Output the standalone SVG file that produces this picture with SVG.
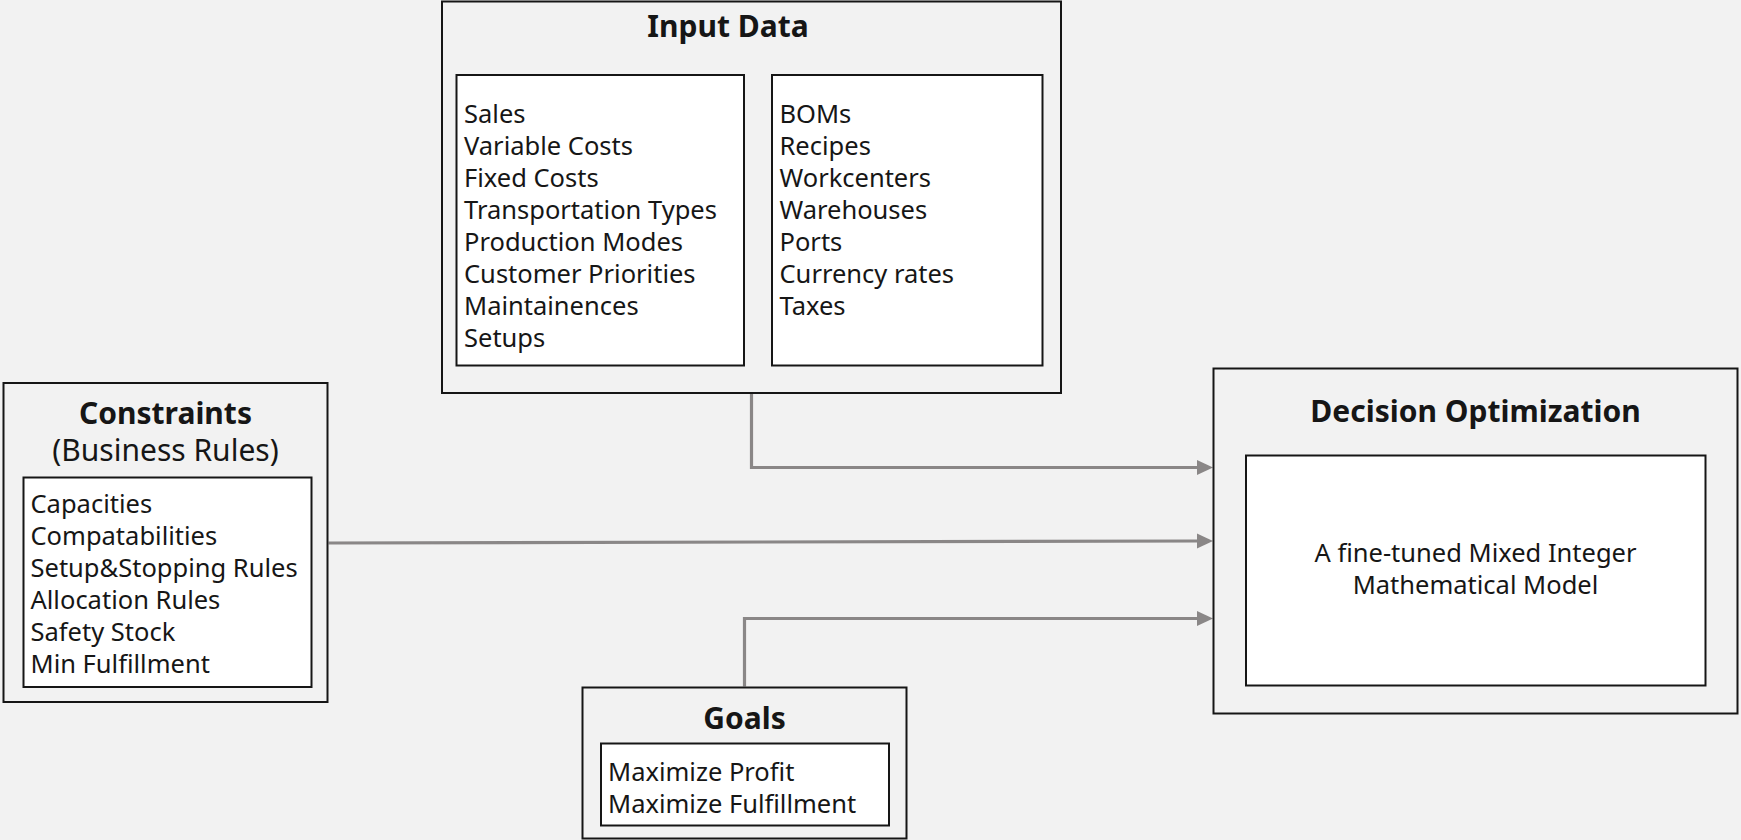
<svg xmlns="http://www.w3.org/2000/svg" width="1741" height="840" viewBox="0 0 1741 840">
<defs>
<style>
.outer{fill:#f2f2f2;stroke:#161616;stroke-width:2}
.inner{fill:#ffffff;stroke:#161616;stroke-width:2}
.t{font-family:"Noto Sans","Liberation Sans",sans-serif;font-size:25.5px;fill:#161616}
.h{font-family:"Noto Sans","Liberation Sans",sans-serif;font-size:30px;font-weight:bold;fill:#161616;text-anchor:middle}
.c{fill:none;stroke:#8a8787;stroke-width:3.2}
</style>
<marker id="arr" markerUnits="userSpaceOnUse" markerWidth="16" markerHeight="16" refX="0" refY="8" orient="auto">
<path d="M0,0.5 L16,8 L0,15.5 z" fill="#8a8787"/>
</marker>
</defs>
<rect x="0" y="0" width="1741" height="840" fill="#f2f2f2"/>

<g id="connectors">
<path class="c" d="M751.5 394 V467.5 H1197" marker-end="url(#arr)"/>
<path class="c" d="M328.5 543 L1197 541" marker-end="url(#arr)"/>
<path class="c" d="M744.5 686.5 V618.5 H1197" marker-end="url(#arr)"/>
</g>

<g id="input-data">
<rect class="outer" x="442" y="1.5" width="619" height="391.5"/>
<text class="h" x="728" y="37">Input Data</text>
<rect class="inner" x="456.5" y="75" width="287.5" height="290.5"/>
<text class="t" x="464" y="122.5">Sales</text>
<text class="t" x="464" y="154.5">Variable Costs</text>
<text class="t" x="464" y="186.5">Fixed Costs</text>
<text class="t" x="464" y="218.5">Transportation Types</text>
<text class="t" x="464" y="250.5">Production Modes</text>
<text class="t" x="464" y="282.5">Customer Priorities</text>
<text class="t" x="464" y="314.5">Maintainences</text>
<text class="t" x="464" y="346.5">Setups</text>
<rect class="inner" x="772" y="75" width="270.5" height="290.5"/>
<text class="t" x="779.5" y="122.5">BOMs</text>
<text class="t" x="779.5" y="154.5">Recipes</text>
<text class="t" x="779.5" y="186.5">Workcenters</text>
<text class="t" x="779.5" y="218.5">Warehouses</text>
<text class="t" x="779.5" y="250.5">Ports</text>
<text class="t" x="779.5" y="282.5">Currency rates</text>
<text class="t" x="779.5" y="314.5">Taxes</text>
</g>

<g id="constraints">
<rect class="outer" x="3.5" y="383" width="324" height="319"/>
<text class="h" x="165.5" y="424">Constraints</text>
<text class="t" x="165.5" y="461" style="font-size:30px" text-anchor="middle">(Business Rules)</text>
<rect class="inner" x="23.5" y="477.5" width="288" height="209.5"/>
<text class="t" x="30.5" y="513">Capacities</text>
<text class="t" x="30.5" y="545">Compatabilities</text>
<text class="t" x="30.5" y="577">Setup&amp;Stopping Rules</text>
<text class="t" x="30.5" y="609">Allocation Rules</text>
<text class="t" x="30.5" y="641">Safety Stock</text>
<text class="t" x="30.5" y="673">Min Fulfillment</text>
</g>

<g id="goals">
<rect class="outer" x="582.5" y="687.5" width="324" height="151"/>
<text class="h" x="744.5" y="729">Goals</text>
<rect class="inner" x="601" y="743.5" width="288" height="82"/>
<text class="t" x="608" y="781">Maximize Profit</text>
<text class="t" x="608" y="813">Maximize Fulfillment</text>
</g>

<g id="decision-optimization">
<rect class="outer" x="1213.5" y="368.5" width="524" height="345"/>
<text class="h" x="1475.5" y="421.5">Decision Optimization</text>
<rect class="inner" x="1246" y="455.5" width="459.5" height="230"/>
<text class="t" x="1475.5" y="561.5" text-anchor="middle">A fine-tuned Mixed Integer</text>
<text class="t" x="1475.5" y="593.5" text-anchor="middle">Mathematical Model</text>
</g>
</svg>
